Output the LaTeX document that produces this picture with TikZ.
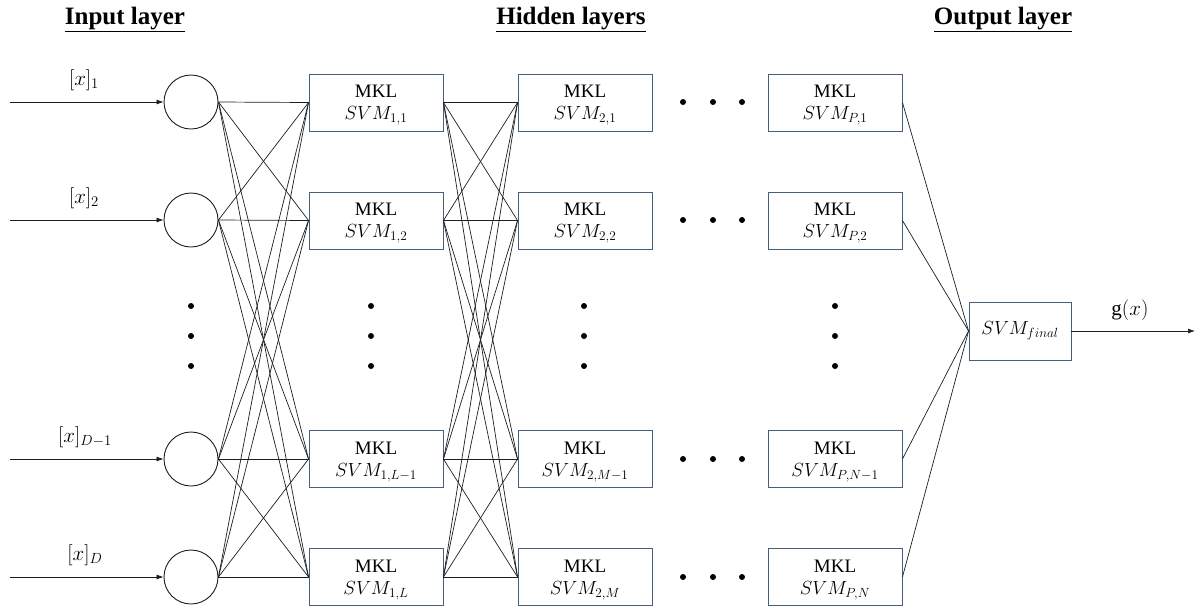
\RequirePackage{fix-cm}
\documentclass[tikz,border=0pt]{standalone}
\usepackage{fontspec}
\setmainfont{LiberationSerif}[Extension=.ttf, UprightFont=*-Regular, BoldFont=*-Bold, ItalicFont=*-Italic, BoldItalicFont=*-BoldItalic]
\usetikzlibrary{arrows.meta}
\definecolor{boxc}{RGB}{70,95,125}
\definecolor{linec}{RGB}{30,30,30}
\begin{document}
\begin{tikzpicture}[x=1pt,y=-1pt,
  svmbox/.style={draw=boxc, line width=0.9pt, minimum width=134pt, minimum height=57pt, inner sep=0pt, align=center, font=\fontsize{19}{22}\selectfont, text=black, text depth=0pt},
  finbox/.style={draw=boxc, line width=0.9pt, minimum width=102pt, minimum height=58pt, inner sep=0pt, font=\fontsize{19}{22}\selectfont, text=black},
  inode/.style={circle, draw=linec, line width=0.9pt, minimum size=54pt, inner sep=0pt},
  link/.style={draw=linec, line width=0.7pt},
  arr/.style={link, -{Latex[length=7pt,width=5pt]}},
  bigdot/.style={circle, fill=black, minimum size=6pt, inner sep=0pt},
  ttl/.style={font=\fontsize{25}{28}\selectfont\bfseries, inner sep=0pt},
  lab/.style={font=\fontsize{21}{24}\selectfont, inner sep=0pt}
]
\useasboundingbox (0,0) rectangle (1197,606);

% titles
\node[ttl, anchor=base] (t1) at (125,24) {\underline{Input layer}};
\node[ttl, anchor=base] (t2) at (571,24) {\underline{Hidden layers}};
\node[ttl, anchor=base] (t3) at (1003,24) {\underline{Output layer}};

% input nodes
\node[inode] (c1) at (191,102) {};
\node[inode] (c2) at (191,220) {};
\node[inode] (c3) at (191,459) {};
\node[inode] (c4) at (191,577) {};

% input arrows and labels
\coordinate (s1) at (10,102);
\coordinate (s2) at (10,220);
\coordinate (s3) at (10,459);
\coordinate (s4) at (10,577);
\foreach \i in {1,...,4} { \draw[arr] (s\i) -- (c\i.west); }
\node[lab] (l1) at (84,80) {$[x]_1$};
\node[lab] (l2) at (84,198) {$[x]_2$};
\node[lab] (l3) at (85,437) {$[x]_{D-1}$};
\node[lab] (l4) at (85,555) {$[x]_D$};

% hidden layer 1
\node[svmbox] (a1) at (376,102.5) {MKL\\$SVM_{1,1}$};
\node[svmbox] (a2) at (376,220.5) {MKL\\$SVM_{1,2}$};
\node[svmbox] (a3) at (376,459) {MKL\\$SVM_{1,L-1}$};
\node[svmbox] (a4) at (376,577) {MKL\\$SVM_{1,L}$};

% hidden layer 2
\node[svmbox] (b1) at (585,102.5) {MKL\\$SVM_{2,1}$};
\node[svmbox] (b2) at (585,220.5) {MKL\\$SVM_{2,2}$};
\node[svmbox] (b3) at (585,459) {MKL\\$SVM_{2,M-1}$};
\node[svmbox] (b4) at (585,577) {MKL\\$SVM_{2,M}$};

% hidden layer P
\node[svmbox] (p1) at (835,102.5) {MKL\\$SVM_{P,1}$};
\node[svmbox] (p2) at (835,220.5) {MKL\\$SVM_{P,2}$};
\node[svmbox] (p3) at (835,459) {MKL\\$SVM_{P,N-1}$};
\node[svmbox] (p4) at (835,577) {MKL\\$SVM_{P,N}$};

% final
\node[finbox] (fin) at (1020,331) {$SVM_{final}$};

% connections
\foreach \i in {1,...,4} {
  \foreach \j in {1,...,4} {
    \draw[link] (c\i.east) -- (a\j.west);
    \draw[link] (a\i.east) -- (b\j.west);
  }
  \draw[link] (p\i.east) -- (fin.west);
}

% output
\coordinate (out) at (1195,331);
\draw[arr] (fin.east) -- (out);
\node[lab] (g) at (1130,310) {g$(x)$};

% vertical dots
\foreach \x/\n in {191/v0,371/v1,584/v2,835/v3} {
  \node[bigdot] (\n a) at (\x,306) {};
  \node[bigdot] (\n b) at (\x,336) {};
  \node[bigdot] (\n c) at (\x,366) {};
}
% horizontal dots
\foreach \y/\n in {102/h1,220/h2,459/h3,577/h4} {
  \node[bigdot] (\n a) at (683,\y) {};
  \node[bigdot] (\n b) at (713,\y) {};
  \node[bigdot] (\n c) at (742,\y) {};
}
\end{tikzpicture}
\end{document}
